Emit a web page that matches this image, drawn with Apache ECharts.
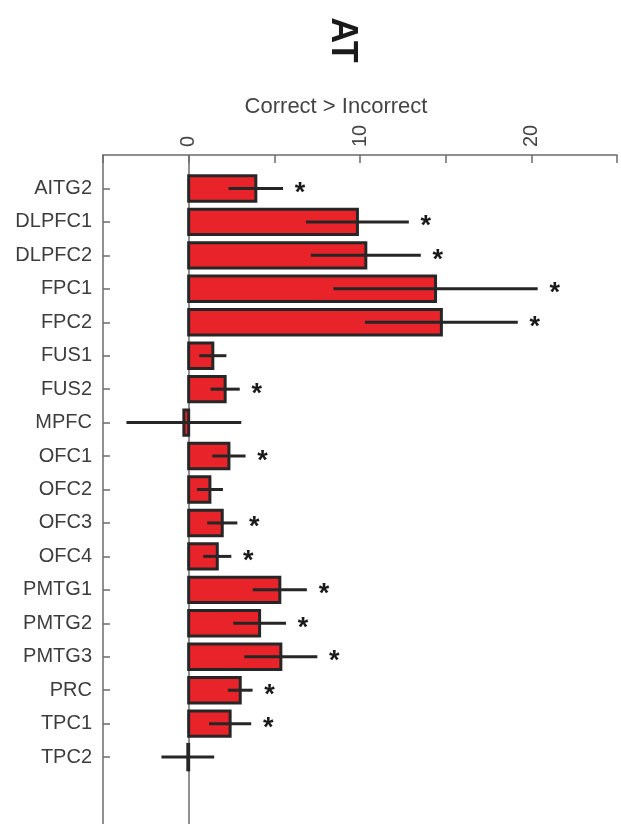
<!DOCTYPE html>
<html><head><meta charset="utf-8">
<script src="https://cdn.jsdelivr.net/npm/echarts@6/dist/echarts.min.js"></script>
<style>html,body{margin:0;padding:0;background:#fff}#c{width:621px;height:824px}</style>
</head><body><div id="c"></div>
<script>
const categories = ['AITG2','DLPFC1','DLPFC2','FPC1','FPC2','FUS1','FUS2','MPFC','OFC1','OFC2','OFC3','OFC4','PMTG1','PMTG2','PMTG3','PRC','TPC1','TPC2'];
const values = [3.92, 9.85, 10.34, 14.41, 14.75, 1.41, 2.13, -0.28, 2.35, 1.24, 1.96, 1.67, 5.32, 4.14, 5.38, 3.01, 2.42, -0.05];
const errors = [1.59, 3.0, 3.21, 5.96, 4.46, 0.79, 0.85, 3.35, 0.97, 0.76, 0.88, 0.82, 1.58, 1.54, 2.13, 0.72, 1.23, 1.54];
const significant = [1,1,1,1,1,0,1,0,1,0,1,1,1,1,1,1,1,0];
const xTickLabels = [0, 10, 20];
const titleText = 'AT';
const axisTitle = 'Correct > Incorrect';

const yCats = [''].concat(categories, ['', '']);
const seriesData = categories.map((c, i) => [values[i], i + 1, errors[i], significant[i]]);
const FONT = '"Liberation Sans", Arial, Helvetica, sans-serif';
const ink = '#262626';
const axisGray = '#6b6b6b';

function renderItem(params, api) {
  const v = api.value(0), yi = api.value(1), e = api.value(2), sig = api.value(3);
  const p0 = api.coord([0, yi]);
  const p1 = api.coord([v, yi]);
  const band = api.size([0, 1])[1];
  const h = band * 0.76;
  const lo = api.coord([v - e, yi]);
  const hi = api.coord([v + e, yi]);
  const children = [
    {type: 'rect', shape: {x: Math.min(p0[0], p1[0]), y: p0[1] - h / 2, width: Math.abs(p1[0] - p0[0]), height: h},
     style: {fill: '#e8242a', stroke: ink, lineWidth: 3}},
    {type: 'line', shape: {x1: lo[0], y1: lo[1], x2: hi[0], y2: hi[1]},
     style: {stroke: ink, lineWidth: 3}}
  ];
  if (sig) {
    children.push({type: 'text', style: {text: '*', x: hi[0] + 17, y: hi[1] + 5,
      font: 'bold 27px ' + FONT, fill: '#1a1a1a', align: 'center', verticalAlign: 'middle'}});
  }
  return {type: 'group', children};
}

const chart = echarts.init(document.getElementById('c'), null, {renderer: 'canvas'});
chart.setOption({
  animation: false,
  backgroundColor: '#fff',
  grid: {left: 103, right: 4, top: 155, bottom: -1, containLabel: false},
  xAxis: {
    type: 'value', position: 'top', min: -5, max: 25, interval: 5,
    axisLine: {show: true, lineStyle: {color: axisGray, width: 1.5}},
    axisTick: {show: true, inside: true, length: 8, lineStyle: {color: axisGray, width: 1.5}},
    axisLabel: {rotate: -90, margin: 8, fontSize: 20, color: '#444', fontFamily: FONT,
      formatter: v => xTickLabels.indexOf(v) >= 0 ? String(v) : ''},
    splitLine: {show: false}
  },
  yAxis: {
    type: 'category', inverse: true, boundaryGap: false, data: yCats,
    axisLine: {show: true, onZero: false, lineStyle: {color: axisGray, width: 1.5}},
    axisTick: {show: true, inside: true, length: 7, lineStyle: {color: axisGray, width: 1.5},
      interval: (i, val) => val !== ''},
    axisLabel: {interval: 0, margin: 11, fontSize: 20, color: '#3d3d3d', fontFamily: FONT},
    splitLine: {show: false}
  },
  graphic: [
    {type: 'text', x: 342, y: 40, rotation: -Math.PI / 2,
     style: {text: titleText, font: 'bold 36px ' + FONT, fill: '#1a1a1a', align: 'center', verticalAlign: 'middle'}},
    {type: 'text', x: 336, y: 107,
     style: {text: axisTitle, font: '22px ' + FONT, fill: '#444', align: 'center', verticalAlign: 'middle'}}
  ],
  series: [{
    type: 'custom', renderItem: renderItem, data: seriesData, encode: {x: 0, y: 1}, clip: false,
    markLine: {silent: true, symbol: 'none', label: {show: false},
      lineStyle: {color: axisGray, width: 1.5, type: 'solid'}, data: [{xAxis: 0}], z: 1}
  }]
});
</script></body></html>
